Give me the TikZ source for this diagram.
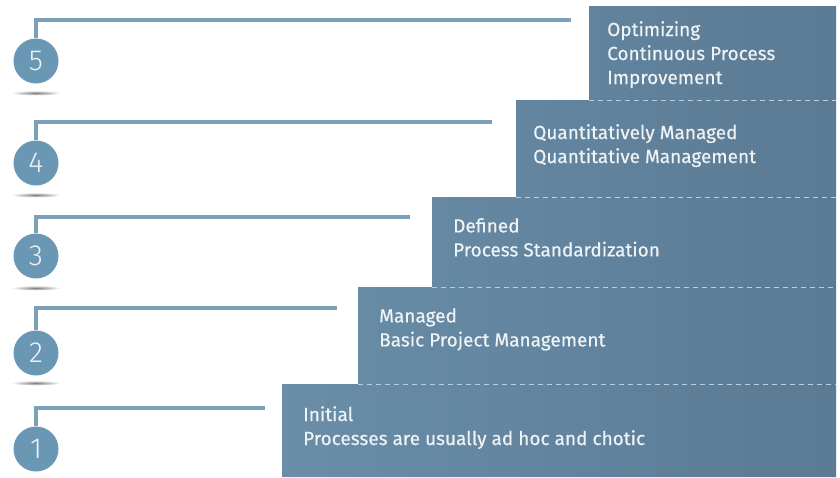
\documentclass[tikz,border=0pt]{standalone}
\usepackage{fontspec}
\setmainfont{Fira Sans}[FakeBold=0.4]
\newfontfamily\digitfont{Fira Sans Light}
\usetikzlibrary{calc,positioning,shadings}

\definecolor{stepleft}{HTML}{6A8EA8}
\definecolor{stepright}{HTML}{5B7A94}
\definecolor{ringblue}{HTML}{6A97B4}
\definecolor{railblue}{HTML}{7BA1B9}
\definecolor{seamblue}{HTML}{B8CFE0}
\definecolor{inkwhite}{HTML}{EEF3F6}

\begin{document}
\begin{tikzpicture}[x=1pt,y=-1pt]

	\tikzset{
		level/.style={circle,fill=ringblue,inner sep=0pt,minimum size=45pt,
				text=inkwhite,font=\digitfont\fontsize{29}{29}\selectfont},
		rail/.style={draw=railblue,line width=4pt},
		seam/.style={draw=seamblue,line width=1pt,dash pattern=on 5pt off 4pt},
		caption/.style={anchor=north west,align=left,inner sep=0pt,text=inkwhite,
				font=\fontsize{19}{24}\selectfont}
	}

	\useasboundingbox (0,0) rectangle (840,477);

	% the staircase
	\shade[left color=stepleft,right color=stepright]
		(589,6) -- (836,6) -- (836,477) -- (282,477) -- (282,384) -- (358,384)
		-- (358,287) -- (432,287) -- (432,197) -- (516,197) -- (516,100)
		-- (589,100) -- cycle;

	\foreach \x/\y in {589/100, 516/197, 432/287, 358/384} {
			\draw[seam] (\x,\y) -- (836,\y);
		}

	% shadows under the circles
	\foreach \y in {93,195,288,383} {
			\shade[inner color=black!50,outer color=white] (36,\y) ellipse (25 and 2.5);
		}

	% numbered circles and their rails
	\foreach \n/\cy/\ry/\rx in {5/61/20/571, 4/163/122/492, 3/256/217/410, 2/353/308/337, 1/449/408/265} {
			\node[level] (c\n) at (36,\cy) {\n};
			\coordinate (r\n) at (\rx,\ry);
			\draw[rail] (c\n.north) |- (r\n);
		}

	\node[caption] (t5) at (607,21) {Optimizing\\Continuous Process\\Improvement};
	\node[caption] (t4) at (533,124) {Quantitatively Managed\\Quantitative Management};
	\node[caption] (t3) at (453,218) {Defined\\Process Standardization};
	\node[caption] (t2) at (379,308) {Managed\\Basic Project Management};
	\node[caption] (t1) at (303,406) {Initial\\Processes are usually ad hoc and chotic};
\end{tikzpicture}
\end{document}
